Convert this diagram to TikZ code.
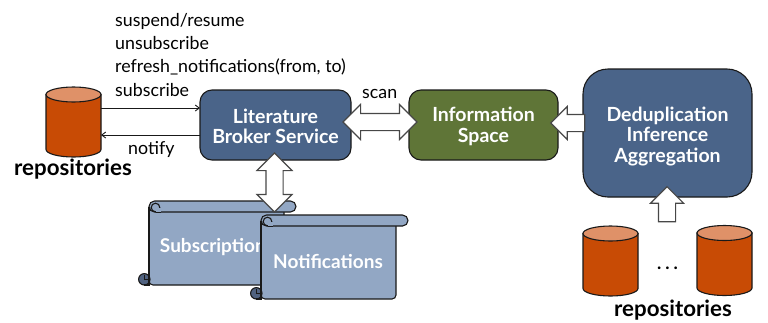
\documentclass[tikz,border=0pt]{standalone}
\usepackage{fontspec}
\setmainfont{Lato}
\usetikzlibrary{positioning}
\usetikzlibrary{shapes.arrows}
\usetikzlibrary{arrows.meta}
\definecolor{brokerblue}{RGB}{74,100,137}
\definecolor{spacegreen}{RGB}{95,117,55}
\definecolor{scrollblue}{RGB}{146,167,196}
\definecolor{curlblue}{RGB}{80,98,128}
\definecolor{repoorange}{RGB}{200,75,5}
\definecolor{repotop}{RGB}{223,145,104}
\definecolor{outline}{RGB}{25,25,25}

\tikzset{
  box/.style={draw=outline, line width=1.1pt, rounded corners=12pt, text=white, align=center,
    font=\fontsize{19.5}{20.5}\selectfont\bfseries, inner sep=0pt},
  repoline/.style={draw=outline, line width=1.1pt},
  label/.style={font=\fontsize{17.8}{22}\selectfont, inner sep=0pt, anchor=base west},
  repolabel/.style={font=\fontsize{22.3}{24}\selectfont\bfseries, inner sep=0pt, anchor=base},
  scrolltext/.style={font=\fontsize{19}{22}\selectfont\bfseries, text=white, inner sep=0pt},
  bigdouble/.style={double arrow, draw=outline!80, line width=1.1pt, fill=white, inner sep=0pt,
    text height=8pt, text depth=8pt, double arrow head extend=9pt, double arrow head indent=0pt},
  bigsingle/.style={single arrow, draw=outline!80, line width=1.1pt, fill=white, inner sep=0pt,
    text height=8pt, text depth=8pt, single arrow head extend=8pt, single arrow head indent=0pt},
  call/.style={-{Straight Barb[length=4pt,width=6pt]}, outline, line width=0.9pt},
  scrollline/.style={draw=outline, line width=1.1pt},
}

% scroll with its two curls, #1 = top left corner of the body
\newcommand{\scrollshape}[1]{
\begin{scope}[shift={#1}]
\draw[scrollline, fill=scrollblue, rounded corners=4pt] (0,6)--(0,84)--(135,84)--(135,6)--cycle;
\draw[scrollline, fill=scrollblue, rounded corners=5.5pt] (0,0) rectangle (147,11);
\draw[scrollline] (6.5,6.5) circle (4.3);
\fill[scrollblue] (7,7) rectangle (11.5,12);
\draw[scrollline, line width=0.9pt] (6.5,11)--(12,11);
\draw[scrollline, fill=curlblue] (-4.7,78.3) circle (5.7);
\draw[scrollline, line width=0.9pt] (-4.7,73.5)--(-4.7,78.3)--(0,78.3);
\draw[scrollline] (0,6)--(0,84)--(-4.7,84);
\end{scope}
}

% repository barrel, #1 = top left corner
\newcommand{\repobarrel}[1]{
\begin{scope}[shift={#1}]
\draw[repoline, fill=repoorange] (0,7.5)--(0,62.5) arc[start angle=180, end angle=0, x radius=27.5, y radius=7.5]--(55,7.5)--cycle;
\draw[repoline, fill=repotop] (27.5,7.5) ellipse [x radius=27.5, y radius=7.5];
\end{scope}
}

\begin{document}
\begin{tikzpicture}[x=1pt,y=-1pt]
\useasboundingbox (0,0) rectangle (768,322);

% scrolls
\scrollshape{(149,201)}
\node[scrolltext] (subscriptions) at (217,247) {Subscriptions};
\scrollshape{(261,215)}
\node[scrolltext] (notifications) at (328,261) {Notifications};

% boxes
\node[box, fill=brokerblue, minimum width=151pt, minimum height=70pt] (broker) at (275.5,125) {\rule{0pt}{17pt}Literature\\Broker Service};
\node[box, fill=spacegreen, minimum width=149pt, minimum height=70pt] (space) at (483.5,125) {\rule{0pt}{17pt}Information\\Space};
\node[box, fill=brokerblue, rounded corners=25pt, minimum width=169pt, minimum height=128pt] (dedup) at (667.5,133) {\rule{0pt}{21pt}Deduplication\\Inference\\Aggregation};

% repositories
\repobarrel{(46,87)}
\repobarrel{(583,226)}
\repobarrel{(697,225.5)}

\node[repolabel] (repoAlabel) at (73,175) {repositories};
\node[repolabel] (repoBlabel) at (673,316.5) {repositories};
\node[inner sep=0pt, anchor=base, font=\fontsize{18}{20}\selectfont\bfseries] (dots) at (667.5,269) {.\hspace{4pt}.\hspace{4pt}.};

% texts
\node[label] (suspend) at (115,26) {suspend/resume};
\node[label] (unsub) at (115,49) {unsubscribe};
\node[label] (refresh) at (115,72.5) {refresh\_notifications(from, to)};
\node[label] (subscribe) at (115,96) {subscribe};
\node[label] (notify) at (128,154) {notify};
\node[label] (scan) at (362,98) {scan};

% thin arrows
\coordinate (subA) at (101,108);
\coordinate (subB) at (200,108);
\coordinate (notA) at (200,135);
\coordinate (notB) at (101,135);
\draw[call] (subA) -- (subB);
\draw[call] (notA) -- (notB);

% big arrows
\node[bigdouble, minimum height=74pt] (scanarrow) at (380,122) {};
\node[bigdouble, minimum height=59pt, rotate=90] (storearrow) at (274.5,182.5) {};
\node[bigsingle, minimum height=34pt, rotate=180] (feedarrow) at (572,123) {};
\node[bigsingle, minimum height=35pt, rotate=90] (harvestarrow) at (667,208.5) {};

\end{tikzpicture}
\end{document}
